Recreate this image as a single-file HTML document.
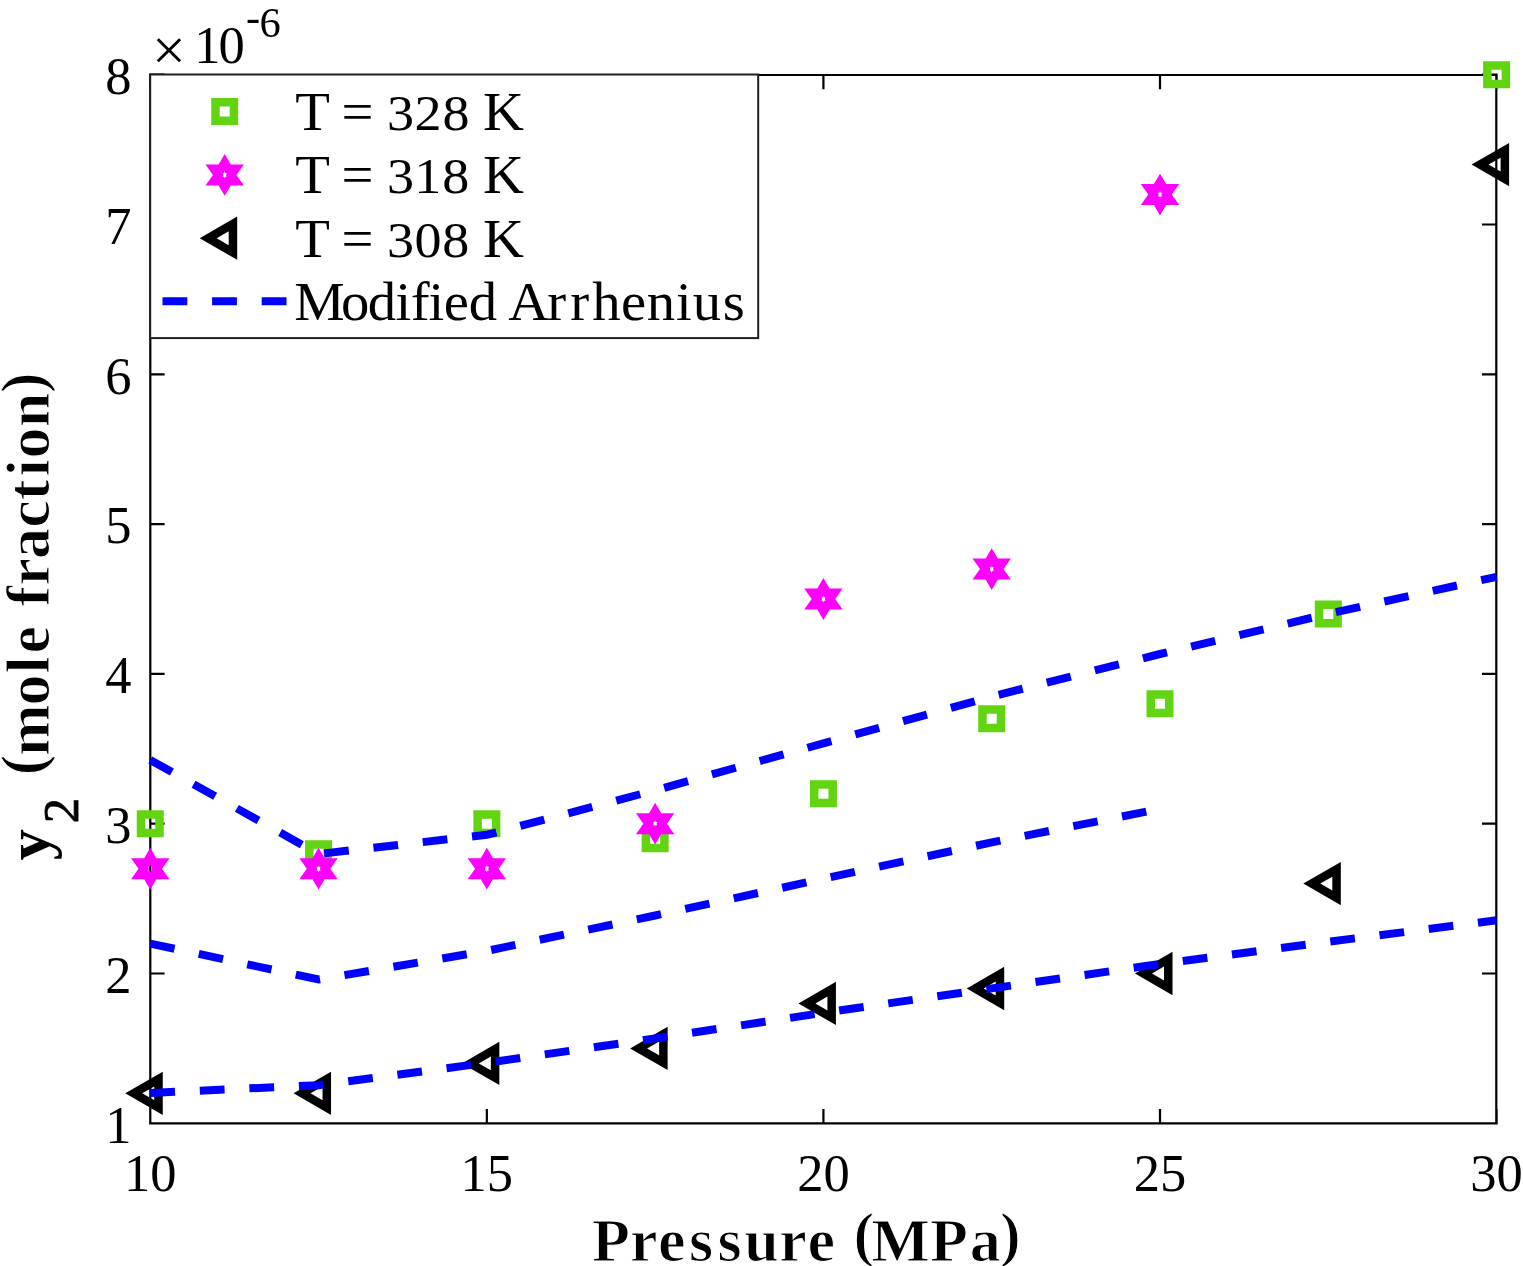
<!DOCTYPE html><html><head><meta charset="utf-8"><title>y2 vs Pressure</title><style>html,body{margin:0;padding:0;background:#fff;overflow:hidden}svg{display:block}text{font-family:"Liberation Serif",serif;fill:#000}.b{font-weight:bold}</style></head><body><svg width="1523" height="1266" viewBox="0 0 1523 1266"><rect width="1523" height="1266" fill="#fff"/><path d="M150.3 75H1496.3V1123.3H150.3ZM150.3 1123.3h13.2M1496.3 1123.3h-13.2M150.3 973.5h13.2M1496.3 973.5h-13.2M150.3 823.7h13.2M1496.3 823.7h-13.2M150.3 673.9h13.2M1496.3 673.9h-13.2M150.3 524.1h13.2M1496.3 524.1h-13.2M150.3 374.3h13.2M1496.3 374.3h-13.2M150.3 224.5h13.2M1496.3 224.5h-13.2M150.3 74.7h13.2M1496.3 74.7h-13.2M150.25 1123.3v-13.2M150.25 75v13.2M486.84 1123.3v-13.2M486.84 75v13.2M823.42 1123.3v-13.2M823.42 75v13.2M1160.01 1123.3v-13.2M1160.01 75v13.2M1496.6 1123.3v-13.2M1496.6 75v13.2" fill="none" stroke="#000" stroke-width="2.2" stroke-linejoin="miter" stroke-linecap="square"/><path d="M136.75 810.2H163.75V837.2H136.75ZM145.25 818.7V828.7H155.25V818.7ZM305.04 840.16H332.04V867.16H305.04ZM313.54 848.66V858.66H323.54V848.66ZM473.34 810.2H500.34V837.2H473.34ZM481.84 818.7V828.7H491.84V818.7ZM641.63 825.18H668.63V852.18H641.63ZM650.13 833.68V843.68H660.13V833.68ZM809.92 780.24H836.92V807.24H809.92ZM818.42 788.74V798.74H828.42V788.74ZM978.22 705.34H1005.22V732.34H978.22ZM986.72 713.84V723.84H996.72V713.84ZM1146.51 690.36H1173.51V717.36H1146.51ZM1155.01 698.86V708.86H1165.01V698.86ZM1314.81 600.48H1341.81V627.48H1314.81ZM1323.31 608.98V618.98H1333.31V608.98ZM1483.1 61.2H1510.1V88.2H1483.1ZM1491.6 69.7V79.7H1501.6V69.7Z" fill="#63d412" fill-rule="evenodd"/><path d="M150.25 847.74L156.35 858.14L169.45 858.14L162 868.64L169.45 879.14L156.35 879.14L150.25 889.54L144.15 879.14L131.05 879.14L138.5 868.64L131.05 858.14L144.15 858.14ZM149.57 866.84L148.22 866.84L148.9 868.64L148.22 870.44L149.57 870.44L150.25 872.24L150.93 870.44L152.28 870.44L151.6 868.64L152.28 866.84L150.93 866.84L150.25 865.04ZM318.54 847.74L324.64 858.14L337.74 858.14L330.29 868.64L337.74 879.14L324.64 879.14L318.54 889.54L312.44 879.14L299.34 879.14L306.79 868.64L299.34 858.14L312.44 858.14ZM317.87 866.84L316.52 866.84L317.19 868.64L316.52 870.44L317.87 870.44L318.54 872.24L319.22 870.44L320.57 870.44L319.89 868.64L320.57 866.84L319.22 866.84L318.54 865.04ZM486.84 847.74L492.94 858.14L506.04 858.14L498.59 868.64L506.04 879.14L492.94 879.14L486.84 889.54L480.74 879.14L467.64 879.14L475.09 868.64L467.64 858.14L480.74 858.14ZM486.16 866.84L484.81 866.84L485.49 868.64L484.81 870.44L486.16 870.44L486.84 872.24L487.51 870.44L488.86 870.44L488.19 868.64L488.86 866.84L487.51 866.84L486.84 865.04ZM655.13 802.8L661.23 813.2L674.33 813.2L666.88 823.7L674.33 834.2L661.23 834.2L655.13 844.6L649.03 834.2L635.93 834.2L643.38 823.7L635.93 813.2L649.03 813.2ZM654.46 821.9L653.1 821.9L653.78 823.7L653.1 825.5L654.46 825.5L655.13 827.3L655.81 825.5L657.16 825.5L656.48 823.7L657.16 821.9L655.81 821.9L655.13 820.1ZM823.42 578.1L829.52 588.5L842.62 588.5L835.17 599L842.62 609.5L829.52 609.5L823.42 619.9L817.32 609.5L804.22 609.5L811.67 599L804.22 588.5L817.32 588.5ZM822.75 597.2L821.4 597.2L822.07 599L821.4 600.8L822.75 600.8L823.42 602.6L824.1 600.8L825.45 600.8L824.78 599L825.45 597.2L824.1 597.2L823.42 595.4ZM991.72 548.14L997.82 558.54L1010.92 558.54L1003.47 569.04L1010.92 579.54L997.82 579.54L991.72 589.94L985.62 579.54L972.52 579.54L979.97 569.04L972.52 558.54L985.62 558.54ZM991.04 567.24L989.69 567.24L990.37 569.04L989.69 570.84L991.04 570.84L991.72 572.64L992.39 570.84L993.75 570.84L993.07 569.04L993.75 567.24L992.39 567.24L991.72 565.44ZM1160.01 173.64L1166.11 184.04L1179.21 184.04L1171.76 194.54L1179.21 205.04L1166.11 205.04L1160.01 215.44L1153.91 205.04L1140.81 205.04L1148.26 194.54L1140.81 184.04L1153.91 184.04ZM1159.34 192.74L1157.99 192.74L1158.66 194.54L1157.99 196.34L1159.34 196.34L1160.01 198.14L1160.69 196.34L1162.04 196.34L1161.36 194.54L1162.04 192.74L1160.69 192.74L1160.01 190.94Z" fill="#ff00ff" fill-rule="evenodd"/><path d="M125.25 1093.34L162.75 1071.69L162.75 1114.99ZM142.25 1093.34L154.25 1100.27L154.25 1086.41ZM293.54 1093.34L331.04 1071.69L331.04 1114.99ZM310.54 1093.34L322.54 1100.27L322.54 1086.41ZM461.84 1063.38L499.34 1041.73L499.34 1085.03ZM478.84 1063.38L490.84 1070.31L490.84 1056.45ZM630.13 1048.4L667.63 1026.75L667.63 1070.05ZM647.13 1048.4L659.13 1055.33L659.13 1041.47ZM798.42 1003.46L835.92 981.81L835.92 1025.11ZM815.42 1003.46L827.42 1010.39L827.42 996.53ZM966.72 988.48L1004.22 966.83L1004.22 1010.13ZM983.72 988.48L995.72 995.41L995.72 981.55ZM1135.01 973.5L1172.51 951.85L1172.51 995.15ZM1152.01 973.5L1164.01 980.43L1164.01 966.57ZM1303.31 883.62L1340.81 861.97L1340.81 905.27ZM1320.31 883.62L1332.31 890.55L1332.31 876.69ZM1471.6 164.58L1509.1 142.93L1509.1 186.23ZM1488.6 164.58L1500.6 171.51L1500.6 157.65Z" fill="#000" fill-rule="evenodd"/><path d="M150.25 760L318.54 854L486.84 834.8L655.13 790.3L823.42 743.3L991.72 696.6L1160.01 654L1328.31 613.8L1496.6 576.8" fill="none" stroke="#0000ff" stroke-width="8" stroke-dasharray="24.8 24.8" stroke-linejoin="miter"/><path d="M150.25 943.6L318.54 979.5L486.84 950.9L655.13 915.5L823.42 878.7L991.72 842.4L1160.01 808.9" fill="none" stroke="#0000ff" stroke-width="8" stroke-dasharray="24.8 24.8" stroke-linejoin="miter"/><path d="M150.25 1092.9L318.54 1085.2L486.84 1062.8L655.13 1038.4L823.42 1012.8L991.72 988.4L1160.01 964L1328.31 941.8L1496.6 920.3" fill="none" stroke="#0000ff" stroke-width="8" stroke-dasharray="24.8 24.8" stroke-linejoin="miter"/><text x="118.4" y="1142.5" font-size="52.5" text-anchor="middle">1</text><text x="118.4" y="992.7" font-size="52.5" text-anchor="middle">2</text><text x="118.4" y="842.9" font-size="52.5" text-anchor="middle">3</text><text x="118.4" y="693.1" font-size="52.5" text-anchor="middle">4</text><text x="118.4" y="543.3" font-size="52.5" text-anchor="middle">5</text><text x="118.4" y="393.5" font-size="52.5" text-anchor="middle">6</text><text x="118.4" y="243.7" font-size="52.5" text-anchor="middle">7</text><text x="118.4" y="93.9" font-size="52.5" text-anchor="middle">8</text><text x="150.25" y="1190.8" font-size="52.5" text-anchor="middle">10</text><text x="486.84" y="1190.8" font-size="52.5" text-anchor="middle">15</text><text x="823.42" y="1190.8" font-size="52.5" text-anchor="middle">20</text><text x="1160.01" y="1190.8" font-size="52.5" text-anchor="middle">25</text><text x="1496.6" y="1190.8" font-size="52.5" text-anchor="middle">30</text><text x="152.05" y="69.5" font-size="60">×</text><text x="194.34 218.38" y="62.5" font-size="52.5">10</text><text x="245.9 259.49" y="31.2 37.3" font-size="42.5">-6</text><rect x="150.2" y="74.5" width="608" height="263.6" fill="#fff" stroke="#202020" stroke-width="2"/><path d="M211.2 98H238.2V125H211.2ZM219.7 106.5V116.5H229.7V106.5Z" fill="#63d412" fill-rule="evenodd"/><path d="M224.7 154L230.8 164.4L243.9 164.4L236.45 174.9L243.9 185.4L230.8 185.4L224.7 195.8L218.6 185.4L205.5 185.4L212.95 174.9L205.5 164.4L218.6 164.4ZM224.02 173.1L222.67 173.1L223.35 174.9L222.67 176.7L224.02 176.7L224.7 178.5L225.38 176.7L226.73 176.7L226.05 174.9L226.73 173.1L225.38 173.1L224.7 171.3Z" fill="#ff00ff" fill-rule="evenodd"/><path d="M199.7 238.2L237.2 216.55L237.2 259.85ZM216.7 238.2L228.7 245.13L228.7 231.27Z" fill="#000" fill-rule="evenodd"/><path d="M162.5 301.3H286.7" stroke="#0000ff" stroke-width="8" stroke-dasharray="24.8 24.8"/><text transform="scale(1.05 1)" x="281.18 314.17 325.32 355.77" y="129.8" font-size="54">T = <tspan x="368.66 394.75 421.51" font-size="51.5">328</tspan><tspan x="447.26 460"> K</tspan></text><text transform="scale(1.05 1)" x="281.18 314.17 325.32 355.77" y="193.5" font-size="54">T = <tspan x="368.66 394.5 421.32" font-size="51.5">318</tspan><tspan x="447.07 460"> K</tspan></text><text transform="scale(1.05 1)" x="281.18 314.17 325.32 355.77" y="256.7" font-size="54">T = <tspan x="368.66 394.84 421.32" font-size="51.5">308</tspan><tspan x="447.07 460"> K</tspan></text><text transform="scale(1.05 1)" x="280.24 324.79 350.14 376.64 391.13 408.16 422.61 446.47 473.47 484.15 521.23 543.13 564.02 591.52 616.05 643.73 659.8 688.31" y="319.8" font-size="54">Modified Arrhenius</text><text class="b" stroke="#fff" stroke-width="1.1" x="592.06 630.02 657.93 689 717.55 744.32 779.37 807.43 834.95 853.56 871.2 930.11 969.77 1000.09" y="1261.4 1261.4 1261.4 1261.4 1261.4 1261.4 1261.4 1261.4 1261.4 1255.4 1261.4 1261.4 1261.4 1255.4" font-size="62">Pressure (MPa)</text><text class="b" transform="rotate(-90)" x="-860.25" y="48.7" font-size="62">y</text><text transform="rotate(-90)" stroke="#000" stroke-width="0.9" x="-823.19" y="77.5" font-size="50.5">2</text><text class="b" stroke="#fff" stroke-width="1.1" transform="rotate(-90)" x="-775.34 -755.98 -705.4 -673.39 -653.52 -626 -606.45 -585.78 -558.93 -527.8 -500.19 -476.59 -458.5 -427.15 -393.01" y="42.7 48.7 48.7 48.7 48.7 48.7 48.7 48.7 48.7 48.7 48.7 48.7 48.7 48.7 42.7" font-size="62">(mole fraction)</text></svg></body></html>
